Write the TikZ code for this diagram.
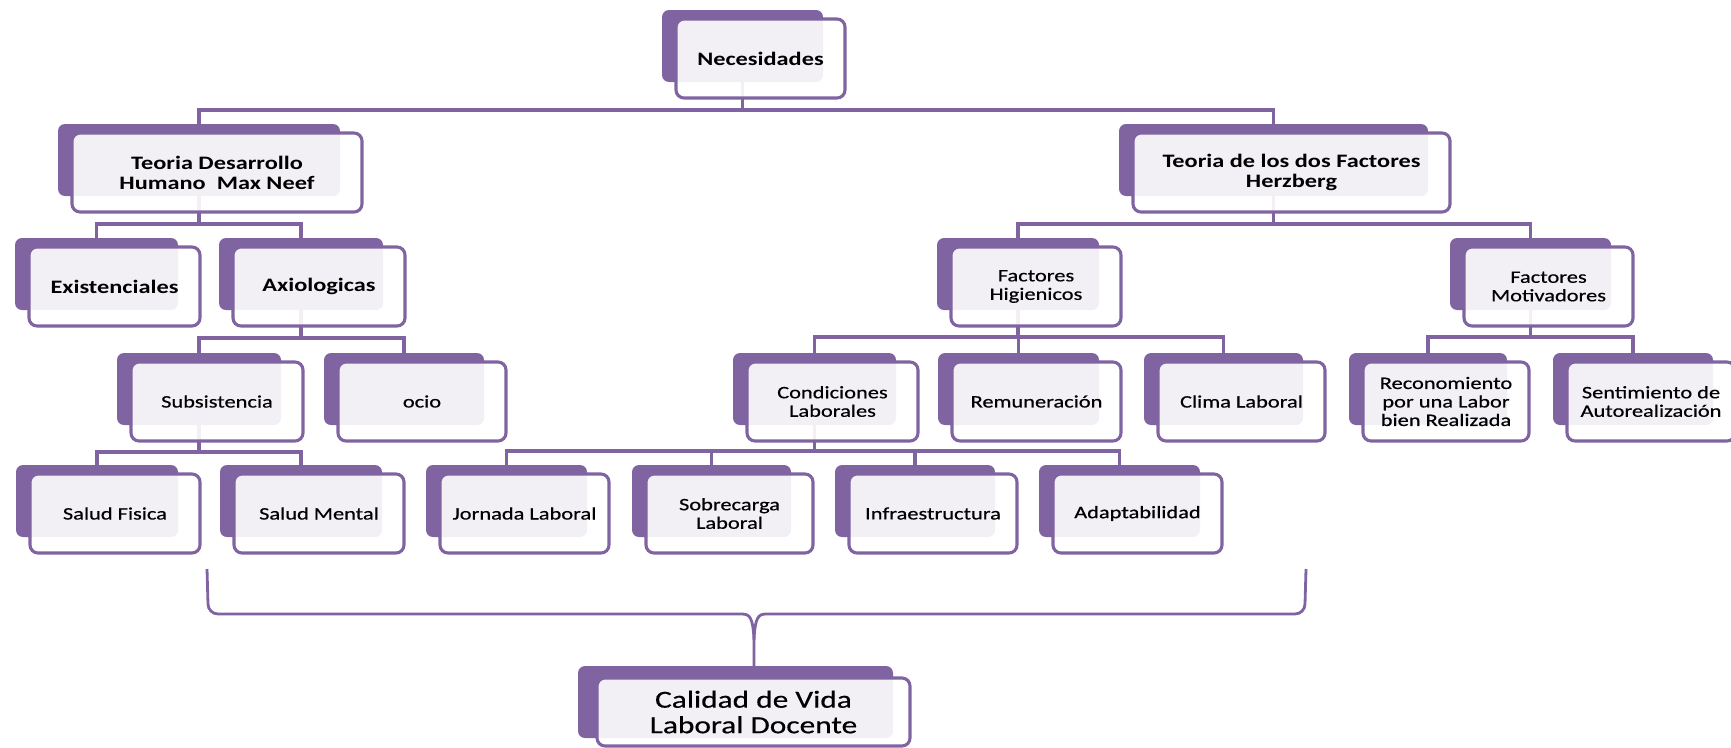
\documentclass[tikz,border=0pt]{standalone}
\usepackage{fontspec}
\setmainfont[FakeStretch=1.28]{Carlito}
\newfontfamily\semibfont[FakeStretch=1.28, FakeBold=0.5]{Carlito}
\usetikzlibrary{backgrounds}
\definecolor{pur}{HTML}{8064A2}
\tikzset{
  backbox/.style={fill=pur, rounded corners=7pt, inner sep=0pt, draw=none},
  frontbox/.style={draw=pur, line width=3.1pt, fill=white, fill opacity=0.9, text opacity=1,
    rounded corners=8pt, inner sep=0pt, align=center, text=black},
  conn/.style={draw=pur, line width=3.1pt},
  lvA/.style={font=\fontsize{19}{20}\selectfont\bfseries},
  lvB/.style={font=\fontsize{17.5}{18.5}\selectfont\semibfont},
  lvC/.style={font=\fontsize{24.5}{25.5}\selectfont\semibfont},
}
\newcommand\card[7]{%
  \pgfmathsetmacro\cW{#5-#3}\pgfmathsetmacro\cH{#6-#4}%
  \pgfmathsetmacro\cX{(#3+#5)/2}\pgfmathsetmacro\cY{(#4+#6)/2}%
  \pgfmathsetmacro\bW{\cW-8}\pgfmathsetmacro\bH{\cH-7}%
  \pgfmathsetmacro\bX{\cX-18}\pgfmathsetmacro\bY{\cY-12.5}%
  \node[backbox, minimum width=\bW pt, minimum height=\bH pt] (#2) at (\bX,\bY) {};
  \node[frontbox, #1, minimum width=\cW pt, minimum height=\cH pt] (#2-f) at (\cX,\cY) {#7};
}
\newcommand\link[3]{\draw[conn] (#1.south) -- (#1.south |- 0,#2) -| (#3.north);}
\begin{document}
\begin{tikzpicture}[x=1pt,y=-1pt]
\useasboundingbox (0,0) rectangle (1731,747);
% row 1
\card{lvA}{nec}{676}{19}{845}{98}{Necesidades}
% row 2
\card{lvA}{tdh}{72}{133}{362}{212}{Teoria Desarrollo\\Humano\ \ Max Neef}
\card{lvA}{tdf}{1133}{133}{1450}{212}{Teoria de los dos Factores\\Herzberg}
% row 2b
\card{lvA}{exi}{29}{247}{200}{326}{Existenciales}
\card{lvA}{axi}{233}{247}{405}{326}{Axiologicas}
\card{lvB}{fhi}{951}{247}{1121}{326}{Factores\\Higienicos}
\card{lvB}{fmo}{1464}{247}{1633}{326}{Factores\\Motivadores}
% row 3
\card{lvB}{sub}{131}{362}{303}{441}{Subsistencia}
\card{lvB}{ocio}{338}{362}{506}{441}{ocio}
\card{lvB}{con}{747}{362}{918}{441}{Condiciones\\Laborales}
\card{lvB}{rem}{952}{362}{1121}{441}{Remuneración}
\card{lvB}{cli}{1158}{362}{1325}{441}{Clima Laboral}
\card{lvB}{rec}{1363}{362}{1529}{441}{Reconomiento\\por una Labor\\bien Realizada}
\card{lvB}{sen}{1567}{362}{1735}{441}{Sentimiento de\\Autorealización}
% row 4
\card{lvB}{sf}{30}{474}{200}{553}{Salud Fisica}
\card{lvB}{sm}{234}{474}{404}{553}{Salud Mental}
\card{lvB}{jor}{440}{474}{609}{553}{Jornada Laboral}
\card{lvB}{sob}{646}{474}{813}{553}{Sobrecarga\\Laboral}
\card{lvB}{inf}{849}{474}{1017}{553}{Infraestructura}
\card{lvB}{ada}{1053}{474}{1222}{553}{Adaptabilidad}
% final card
\node[backbox, minimum width=315pt, minimum height=72pt] (cal) at (735.5,702) {};
\node[frontbox, lvC, minimum width=313pt, minimum height=68pt] (cal-f) at (753.5,712) {Calidad de Vida\\Laboral Docente};
% connectors
\begin{scope}[on background layer]
\link{nec}{110}{tdh}
\link{nec}{110}{tdf}
\link{tdh}{224}{exi}
\link{tdh}{224}{axi}
\link{tdf}{224}{fhi}
\link{tdf}{224}{fmo}
\link{axi}{338}{sub}
\link{axi}{338}{ocio}
\link{fhi}{337}{con}
\link{fhi}{337}{rem}
\link{fhi}{337}{cli}
\link{fmo}{337}{rec}
\link{fmo}{337}{sen}
\link{sub}{452}{sf}
\link{sub}{452}{sm}
\link{con}{451}{jor}
\link{con}{451}{sob}
\link{con}{451}{inf}
\link{con}{451}{ada}
\end{scope}
% brace
\coordinate (brL) at (207,569);
\coordinate (brR) at (1306,569);
\coordinate (brM) at (754,640);
\draw[conn, line width=2.8pt] (brL) -- (208,604) to[out=-90,in=180] (218,614) -- (742,614)
  .. controls (750,614) and (753,618) .. (brM) -- (brM |- cal.north);
\draw[conn, line width=2.8pt] (brR) -- (1305,604) to[out=-90,in=0] (1295,614) -- (766,614)
  .. controls (758,614) and (755,618) .. (brM);
\end{tikzpicture}
\end{document}
